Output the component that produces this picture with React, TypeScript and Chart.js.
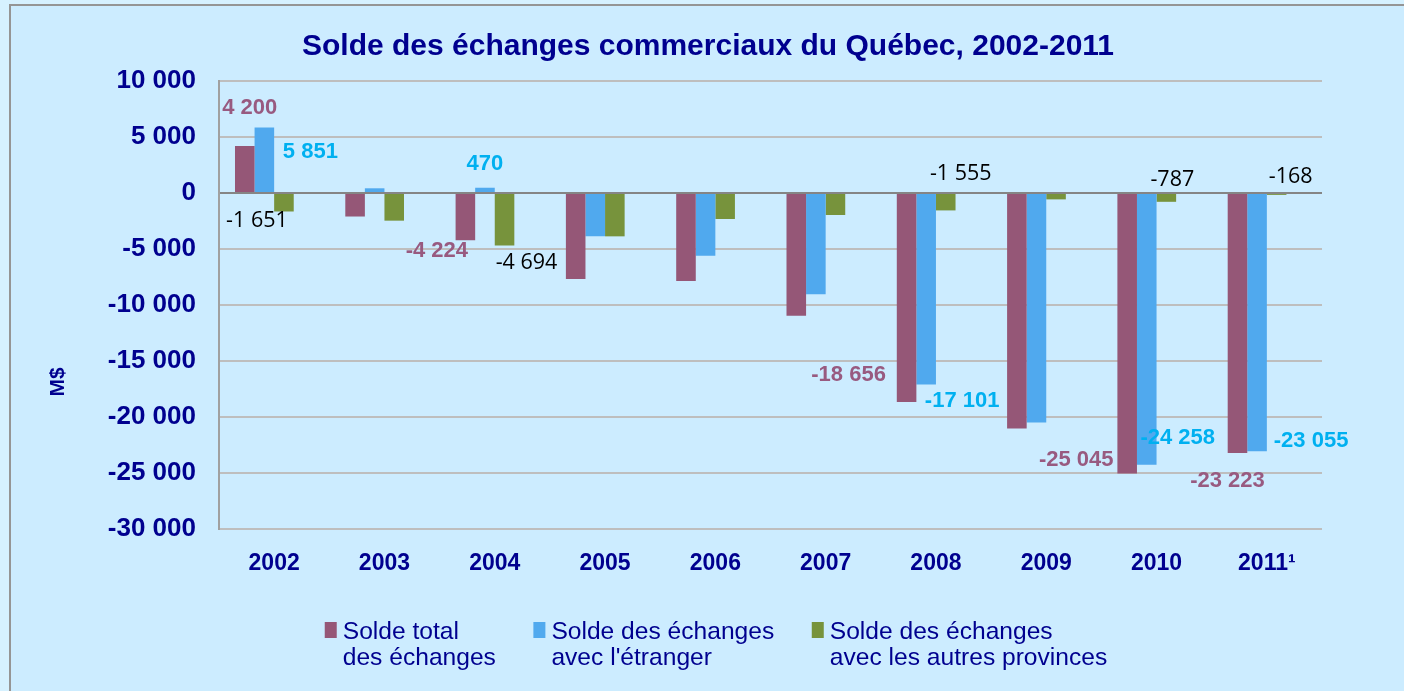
import React, { useEffect, useRef } from "react";
import { Chart, registerables } from "chart.js";

Chart.register(...registerables);

const years = ["2002", "2003", "2004", "2005", "2006", "2007", "2008", "2009", "2010", "2011¹"];
const totalBalance = [4200, -2100, -4224, -7680, -7860, -10960, -18656, -21020, -25045, -23223];
const foreignBalance = [5851, 420, 470, -3870, -5600, -9050, -17101, -20480, -24258, -23055];
const provincesBalance = [-1651, -2470, -4694, -3870, -2320, -1965, -1555, -570, -787, -168];
const yTicks = [10000, 5000, 0, -5000, -10000, -15000, -20000, -25000, -30000];

const seriesNames = [
  ["Solde total", "des échanges"],
  ["Solde des échanges", "avec l'étranger"],
  ["Solde des échanges", "avec les autres provinces"],
];
const seriesColors = ["#955777", "#50A9EE", "#77933C"];
const labelColors = ["#985A80", "#00B0F0", "#000000"];

// which bars carry a value label, and where the label sits relative to the bar end
const labelPlacements = [
  { series: 0, index: 0, dx: 5, dy: -38.5 },
  { series: 1, index: 0, dx: 46, dy: 24 },
  { series: 2, index: 0, dx: -27, dy: 9.5 },
  { series: 0, index: 2, dx: -28.5, dy: 10.7 },
  { series: 1, index: 2, dx: 0, dy: -24 },
  { series: 2, index: 2, dx: 22, dy: 17.5 },
  { series: 0, index: 6, dx: -58, dy: -27 },
  { series: 1, index: 6, dx: 36, dy: 16 },
  { series: 2, index: 6, dx: 15, dy: -37 },
  { series: 0, index: 8, dx: -51, dy: -13.5 },
  { series: 1, index: 8, dx: 31, dy: -27 },
  { series: 2, index: 8, dx: 6, dy: -22 },
  { series: 0, index: 9, dx: -10, dy: 28 },
  { series: 1, index: 9, dx: 54, dy: -10.5 },
  { series: 2, index: 9, dx: 14, dy: -18 },
];

const TEXT_BLUE = "#00008F";
const FONT = "'Liberation Sans', Arial, sans-serif";

function fmt(v: number): string {
  const s = Math.abs(Math.round(v))
    .toString()
    .replace(/\B(?=(\d{3})+(?!\d))/g, " ");
  return (v < 0 ? "-" : "") + s;
}

const decorPlugin = {
  id: "decor",
  beforeDraw(chart: any) {
    const { ctx, width, height } = chart;
    ctx.save();
    ctx.fillStyle = "#D6F1FF";
    ctx.fillRect(0, 0, width, height);
    ctx.fillStyle = "#CCECFF";
    ctx.fillRect(10, 5, width - 10, height - 5);
    ctx.strokeStyle = "#959595";
    ctx.lineWidth = 2;
    ctx.beginPath();
    ctx.moveTo(10, height);
    ctx.lineTo(10, 5);
    ctx.lineTo(width, 5);
    ctx.stroke();
    ctx.restore();
  },
  afterDraw(chart: any) {
    const { ctx, chartArea } = chart;
    ctx.save();
    // title
    ctx.fillStyle = TEXT_BLUE;
    ctx.font = `bold 30px ${FONT}`;
    ctx.textAlign = "center";
    ctx.textBaseline = "middle";
    ctx.fillText("Solde des échanges commerciaux du Québec, 2002-2011", 708, 47);
    // y-axis title
    ctx.save();
    ctx.translate(chartArea.left - 161, chartArea.top + 301);
    ctx.rotate(-Math.PI / 2);
    ctx.font = `bold 21px ${FONT}`;
    ctx.fillText("M$", 0, 0);
    ctx.restore();
    // legend
    ctx.font = `24.6px ${FONT}`;
    ctx.textAlign = "left";
    ctx.textBaseline = "alphabetic";
    const boxW = 12;
    const textGap = 6;
    const itemGap = 37.5;
    const widths = seriesNames.map((lines) => Math.max(...lines.map((l) => ctx.measureText(l).width)));
    const total = widths.reduce((a, w) => a + boxW + textGap + w, 0) + itemGap * (widths.length - 1);
    let x = 716 - total / 2;
    const base1 = 639;
    const lineH = 26;
    seriesNames.forEach((lines, i) => {
      ctx.fillStyle = seriesColors[i];
      ctx.fillRect(x, 622, boxW, 16);
      ctx.fillStyle = TEXT_BLUE;
      lines.forEach((l, j) => ctx.fillText(l, x + boxW + textGap, base1 + j * lineH));
      x += boxW + textGap + widths[i] + itemGap;
    });
    ctx.restore();
  },
  afterDatasetsDraw(chart: any) {
    const { ctx } = chart;
    ctx.save();
    ctx.textAlign = "center";
    ctx.textBaseline = "middle";
    labelPlacements.forEach((p) => {
      const el = chart.getDatasetMeta(p.series).data[p.index];
      if (!el) return;
      const v = chart.data.datasets[p.series].data[p.index] as number;
      ctx.font = p.series === 2 ? `21.5px 'Open Sans', sans-serif` : `bold 22px ${FONT}`;
      ctx.fillStyle = labelColors[p.series];
      ctx.fillText(fmt(v), el.x + p.dx, el.y + p.dy);
    });
    ctx.restore();
  },
};

export default function App() {
  const ref = useRef<HTMLCanvasElement | null>(null);
  useEffect(() => {
    if (!ref.current) return;
    const seriesData = [totalBalance, foreignBalance, provincesBalance];
    const chart = new Chart(ref.current, {
      type: "bar",
      data: {
        labels: years,
        datasets: [
          ...seriesData.map((d, i) => ({
            label: seriesNames[i].join(" "),
            data: d,
            backgroundColor: seriesColors[i],
            borderWidth: 0,
          })),
          { label: "", data: years.map(() => null), backgroundColor: "transparent" },
        ] as any,
      },
      options: {
        responsive: false,
        animation: false,
        devicePixelRatio: 1,
        datasets: { bar: { categoryPercentage: 0.71, barPercentage: 1 } },
        layout: { padding: { left: 0, top: 81, right: 82, bottom: 0 } },
        plugins: { legend: { display: false }, title: { display: false }, tooltip: { enabled: false } },
        scales: {
          x: {
            grid: { display: false },
            border: { display: false },
            ticks: { color: TEXT_BLUE, font: { family: FONT, size: 23, weight: "bold" }, padding: 13, maxRotation: 0 },
            afterFit: (s: any) => {
              s.height = 162;
            },
          },
          y: {
            min: yTicks[yTicks.length - 1],
            max: yTicks[0],
            afterBuildTicks: (s: any) => {
              s.ticks = yTicks.map((v) => ({ value: v }));
            },
            ticks: {
              color: TEXT_BLUE,
              font: { family: FONT, size: 26, weight: "bold" },
              padding: 23,
              callback: (v: any) => fmt(Number(v)),
            },
            grid: {
              drawTicks: false,
              color: (c: any) => (c.tick && c.tick.value === 0 ? "#858585" : "#BEBEBE"),
              lineWidth: 2,
            },
            border: { display: true, color: "#A0A0A0", width: 2 },
            afterFit: (s: any) => {
              s.width = 219;
            },
          },
        },
      } as any,
      plugins: [decorPlugin],
    });
    return () => chart.destroy();
  }, []);
  return (
    <div style={{ position: "absolute", left: 0, top: 0 }}>
      <canvas ref={ref} width={1404} height={691} style={{ display: "block" }} />
    </div>
  );
}
